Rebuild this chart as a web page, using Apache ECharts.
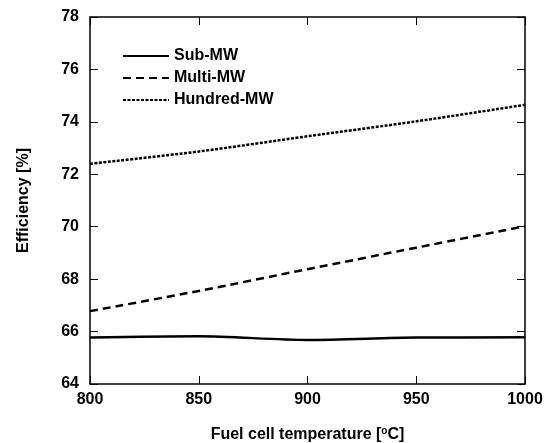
<!DOCTYPE html>
<html>
<head>
<meta charset="utf-8">
<script src="https://cdn.jsdelivr.net/npm/echarts@6/dist/echarts.min.js"></script>
<style>
  html, body { margin: 0; padding: 0; background: #fff; }
  #chart { width: 554px; height: 443px; }
</style>
</head>
<body>
<div id="chart"></div>
<script>
const temps = [800, 850, 900, 950, 1000]
const subMW = [65.77, 65.82, 65.68, 65.77, 65.78]
const multiMW = [66.78, 67.55, 68.38, 69.2, 70.02]
const hundredMW = [72.4, 72.87, 73.45, 74.02, 74.65]

const chart = echarts.init(document.getElementById('chart'))
const font = { fontFamily: 'Liberation Sans, Arial', fontWeight: 'bold', color: '#000' }

const toPts = (ys) => temps.map((t, i) => [t, ys[i]])

const tickSide = {
  axisLine: { show: true, lineStyle: { color: '#000', width: 1.5 } },
  axisTick: { show: true, inside: true, length: 8, lineStyle: { color: '#000', width: 1 } },
  splitLine: { show: false },
}

chart.setOption({
  animation: false,
  grid: { left: 90, right: 29, top: 17, bottom: 59, show: false, outerBoundsMode: 'none', containLabel: false },
  legend: {
    orient: 'vertical',
    left: 117,
    top: 43,
    itemWidth: 46,
    itemHeight: 14,
    itemGap: 6,
    itemStyle: { opacity: 0 },
    textStyle: { ...font, fontSize: 16 },
    data: ['Sub-MW', 'Multi-MW', 'Hundred-MW'],
  },
  xAxis: [
    {
      type: 'value', min: 800, max: 1000, interval: 50,
      ...tickSide,
      axisLabel: { ...font, fontSize: 16, margin: 8, formatter: (v) => String(v) },
      name: '{a|Fuel cell temperature [}{s|o}{a|C]}',
      nameLocation: 'middle',
      nameGap: 42,
      nameTextStyle: {
        rich: {
          a: { ...font, fontSize: 16, lineHeight: 18 },
          s: { ...font, fontSize: 10, lineHeight: 10, verticalAlign: 'top' },
        },
      },
    },
    {
      type: 'value', min: 800, max: 1000, interval: 50, position: 'top',
      ...tickSide, axisLabel: { show: false },
    },
  ],
  yAxis: [
    {
      type: 'value', min: 64, max: 78, interval: 2,
      ...tickSide,
      axisLabel: { ...font, fontSize: 16, margin: 11 },
      name: 'Efficiency [%]',
      nameLocation: 'middle',
      nameGap: 58,
      nameTextStyle: { ...font, fontSize: 16 },
    },
    {
      type: 'value', min: 64, max: 78, interval: 2, position: 'right',
      ...tickSide, axisLabel: { show: false },
    },
  ],
  series: [
    {
      name: 'Sub-MW', type: 'line', smooth: 0.3, showSymbol: false, symbol: 'none',
      data: toPts(subMW),
      lineStyle: { color: '#000', width: 2.5, type: 'solid' },
      itemStyle: { color: '#000' },
    },
    {
      name: 'Multi-MW', type: 'line', smooth: 0.3, showSymbol: false, symbol: 'none',
      data: toPts(multiMW),
      lineStyle: { color: '#000', width: 2.5, type: [8, 5] },
      itemStyle: { color: '#000' },
    },
    {
      name: 'Hundred-MW', type: 'line', smooth: 0.3, showSymbol: false, symbol: 'none',
      data: toPts(hundredMW),
      lineStyle: { color: '#000', width: 2.5, type: [3, 1.5] },
      itemStyle: { color: '#000' },
    },
  ],
})
</script>
</body>
</html>
